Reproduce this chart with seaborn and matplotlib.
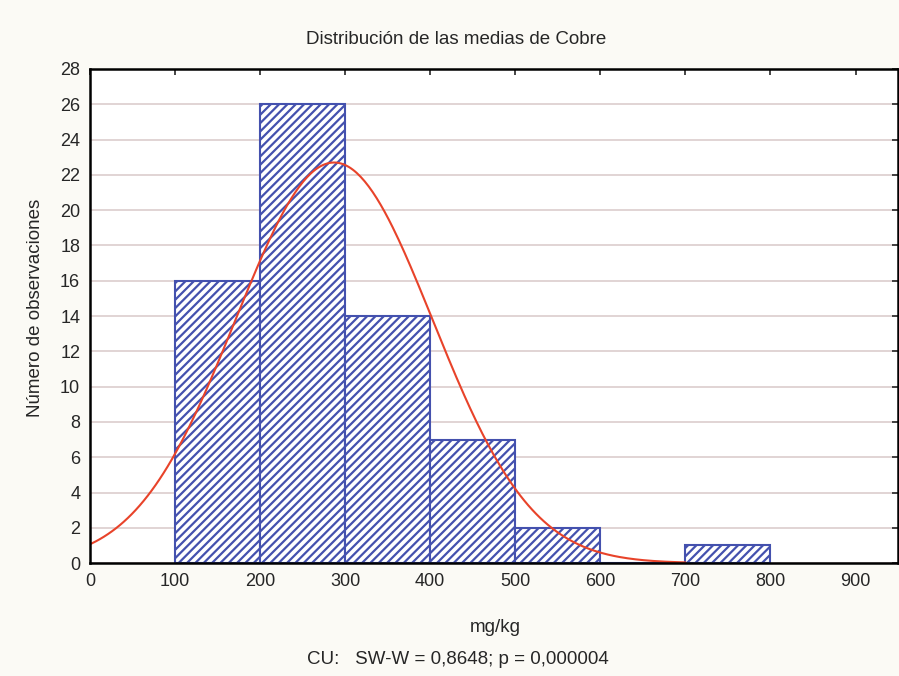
import numpy as np
import pandas as pd
import seaborn as sns
import matplotlib.pyplot as plt

# histogram of copper means (mg/kg)
bin_edges = [100, 200, 300, 400, 500, 600, 700, 800]
counts = [16, 26, 14, 7, 2, 0, 1]
# fitted normal curve
fit_mean = 287
fit_sd = 116
n_obs = sum(counts)
bin_width = 100

title = 'Distribución de las medias de Cobre'
xlabel = 'mg/kg'
ylabel = 'Número de observaciones'
footer = 'CU:   SW-W = 0,8648; p = 0,000004'

sns.set_style('white')
plt.rcParams['font.family'] = ['Liberation Sans', 'DejaVu Sans']
plt.rcParams['hatch.linewidth'] = 1.6

df = pd.DataFrame({'center': [(a + b) / 2 for a, b in zip(bin_edges[:-1], bin_edges[1:])],
                   'count': counts})

fig = plt.figure(figsize=(8.99, 6.76), dpi=100, facecolor='#fbfaf5')
ax = fig.add_axes([0.1, 0.167, 0.899, 0.731])
ax.set_facecolor('white')

ax.yaxis.grid(True, color='#dccdcd', linewidth=1.2)
ax.set_axisbelow(True)

sns.histplot(data=df, x='center', weights='count', bins=bin_edges, ax=ax,
             stat='count', fill=True, color='white', edgecolor='#3d4aa8',
             linewidth=1.5, alpha=1)
for p in ax.patches:
    p.set_hatch('////')
    p.set_facecolor('white')
    p.set_edgecolor('#4451ae')

xs = np.linspace(0, 700, 300)
ys = n_obs * bin_width / (fit_sd * np.sqrt(2 * np.pi)) * np.exp(-0.5 * ((xs - fit_mean) / fit_sd) ** 2)
sns.lineplot(x=xs, y=ys, ax=ax, color='#e8432a', linewidth=1.5)

ax.set_xlim(0, 950)
ax.set_ylim(0, 28)
ax.set_xticks(range(0, 1000, 100))
ax.set_yticks(range(0, 30, 2))
ax.tick_params(axis='both', direction='in', labelsize=13, length=4, width=1.2,
               top=True, right=True, pad=7)
for s in ax.spines.values():
    s.set_visible(True)
    s.set_color('black')
    s.set_linewidth(1.8)

ax.set_xlabel('')
ax.set_ylabel('')
fig.text(0.551, 1 - 627 / 676, xlabel, ha='center', va='center', fontsize=13.5)
fig.text(0.039, 1 - 308 / 676, ylabel, ha='center', va='center', rotation=90, fontsize=13.5)
fig.text(0.507, 1 - 40 / 676, title, ha='center', va='center', fontsize=13.5)
fig.text(0.509, 1 - 660 / 676, footer, ha='center', va='center', fontsize=13.5)

fig.savefig('out.png', dpi=100, facecolor=fig.get_facecolor())
